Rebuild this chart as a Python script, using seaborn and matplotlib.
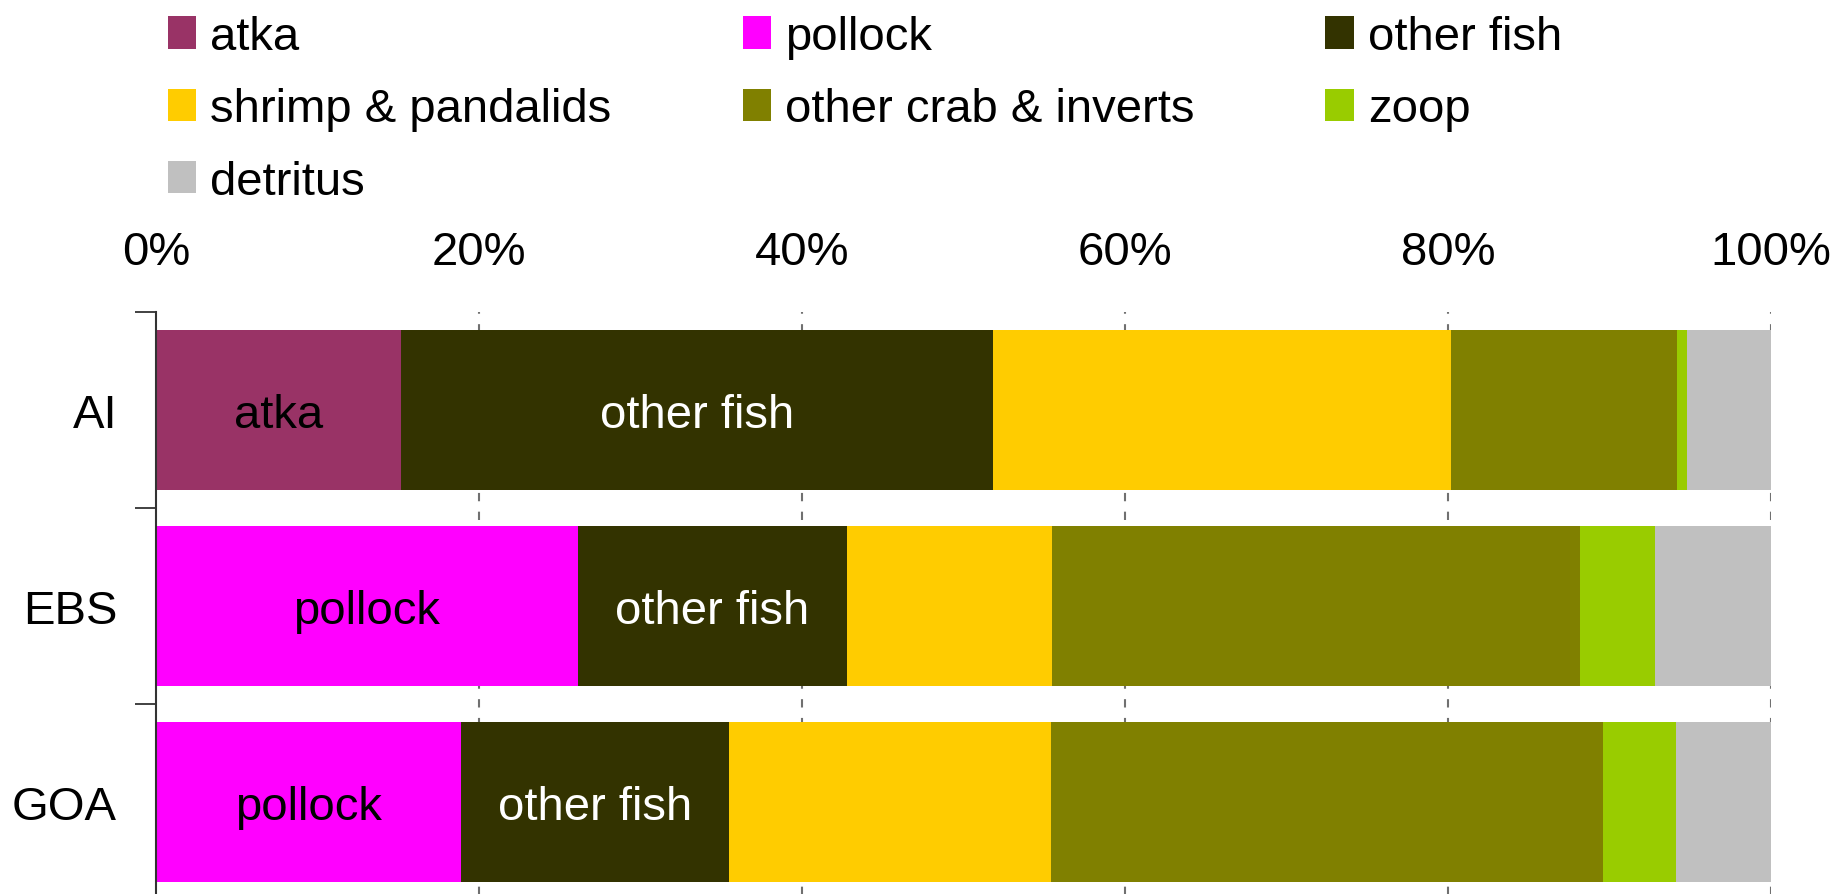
import matplotlib
matplotlib.use("Agg")
import matplotlib.pyplot as plt
from matplotlib.patches import Patch
from matplotlib.ticker import FixedLocator, PercentFormatter
import numpy as np
import pandas as pd
import seaborn as sns

# Diet composition by region (percent of total)
regions = ["AI", "EBS", "GOA"]
groups = ["atka", "pollock", "other fish", "shrimp & pandalids",
          "other crab & inverts", "zoop", "detritus"]
atka = [15.2, 0.0, 0.0]
pollock = [0.0, 26.1, 18.9]
other_fish = [36.6, 16.7, 16.6]
shrimp = [28.4, 12.7, 19.9]
other_crab = [14.0, 32.7, 34.2]
zoop = [0.6, 4.6, 4.5]
detritus = [5.2, 7.2, 5.9]

colors = ["#993366", "#FF00FF", "#333300", "#FFCC00",
          "#808000", "#99CC00", "#C0C0C0"]

# Segment labels: (region, group, text colour)
seg_labels = [("AI", "atka", "black"), ("AI", "other fish", "white"),
              ("EBS", "pollock", "black"), ("EBS", "other fish", "white"),
              ("GOA", "pollock", "black"), ("GOA", "other fish", "white")]

df = pd.DataFrame(
    np.array([atka, pollock, other_fish, shrimp, other_crab, zoop, detritus]).T,
    index=regions, columns=groups)
cum = df.cumsum(axis=1)

sns.set_theme(style="white")
plt.rcParams["font.family"] = ["Liberation Sans", "DejaVu Sans"]
plt.rcParams["text.color"] = "black"
plt.rcParams["xtick.color"] = "black"
plt.rcParams["ytick.color"] = "black"
FS = 34

fig = plt.figure(figsize=(18.39, 8.95), dpi=100)
ax = fig.add_axes([156 / 1839, -6 / 895, (1771 - 156) / 1839, (901 - 313) / 895])

# Gridlines under the bars
for v in np.arange(20, 101, 20):
    ax.axvline(v, color="#707070", lw=1.5, ls=(0, (4, 5)), zorder=0)

# Stacked bars: draw cumulative totals from the largest down
for g, c in zip(reversed(groups), reversed(colors)):
    sns.barplot(x=cum[g].values, y=regions, orient="h", color=c,
                width=0.82, saturation=1, linewidth=0, ax=ax, zorder=2)

for reg, g, tc in seg_labels:
    end = cum.loc[reg, g]
    start = end - df.loc[reg, g]
    ax.text((start + end) / 2, regions.index(reg), g, ha="center",
            va="center_baseline", fontsize=FS, color=tc, zorder=3)

ax.set_xlim(0, 100)
ax.set_ylim(2.5, -0.5)
ax.xaxis.tick_top()
ax.xaxis.set_major_locator(FixedLocator(np.arange(0, 101, 20)))
ax.xaxis.set_major_formatter(PercentFormatter(decimals=0))
ax.tick_params(axis="x", length=0, pad=27.5, labelsize=FS, labelcolor="black")
ax.set_xlabel("")
ax.set_ylabel("")

ax.yaxis.set_minor_locator(FixedLocator([-0.5, 0.5, 1.5, 2.5]))
ax.tick_params(axis="y", which="major", length=0, pad=28, labelsize=FS,
               labelcolor="black")
ax.tick_params(axis="y", which="minor", left=True, length=15, width=1.3,
               color="#333333")
for s in ["top", "right", "bottom"]:
    ax.spines[s].set_visible(False)
ax.spines["left"].set_color("#333333")
ax.spines["left"].set_linewidth(1.5)
ax.grid(False)

# Legend laid out row by row across three columns
order = [0, 3, 6, 1, 4, 2, 5]
handles = [Patch(facecolor=colors[i], edgecolor="none", label=groups[i]) for i in order]
fig.legend(handles=handles, ncol=3, loc="upper left",
           bbox_to_anchor=(168 / 1839, 0.982), frameon=False, fontsize=FS,
           labelcolor="black",
           handlelength=0.6, handleheight=0.68, handletextpad=0.3,
           columnspacing=2.77, labelspacing=0.6, borderpad=0, borderaxespad=0)

fig.savefig("out.png", dpi=100)
